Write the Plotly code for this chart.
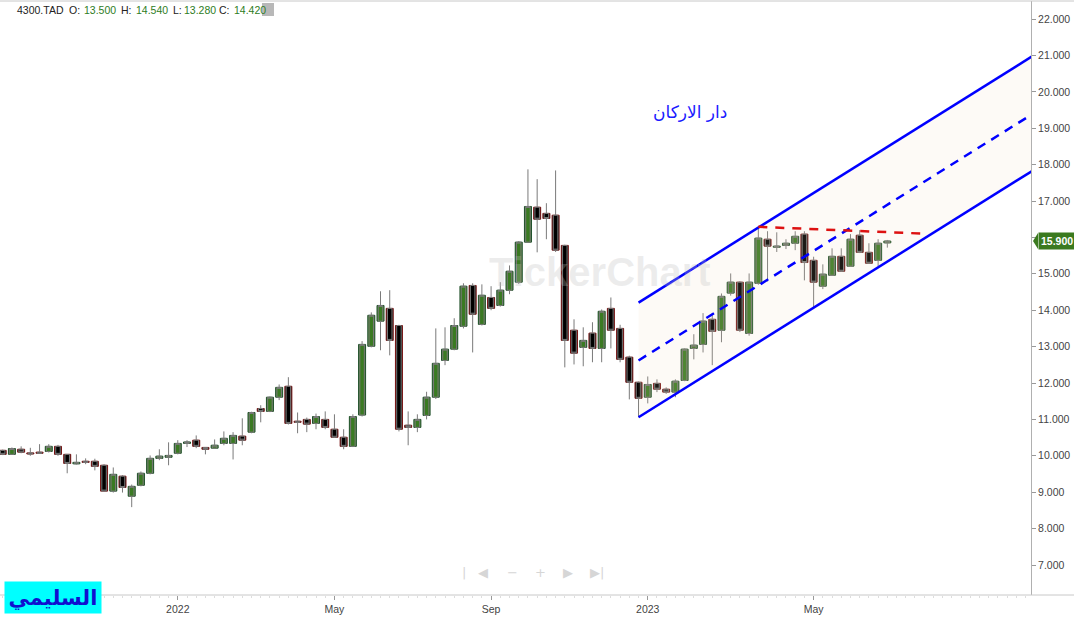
import plotly.graph_objects as go

# ---------------- data ----------------
dates = [
    "2021-08-22", "2021-08-29", "2021-09-05", "2021-09-12", "2021-09-19", "2021-09-26",
    "2021-10-03", "2021-10-10", "2021-10-17", "2021-10-24", "2021-10-31", "2021-11-07",
    "2021-11-14", "2021-11-21", "2021-11-28", "2021-12-05", "2021-12-12", "2021-12-19",
    "2021-12-26", "2022-01-02", "2022-01-09", "2022-01-16", "2022-01-23", "2022-01-30",
    "2022-02-06", "2022-02-13", "2022-02-20", "2022-02-27", "2022-03-06", "2022-03-13",
    "2022-03-20", "2022-03-27", "2022-04-03", "2022-04-10", "2022-04-17", "2022-04-24",
    "2022-05-01", "2022-05-08", "2022-05-15", "2022-05-22", "2022-05-29", "2022-06-05",
    "2022-06-12", "2022-06-19", "2022-06-26", "2022-07-03", "2022-07-17", "2022-07-24",
    "2022-07-31", "2022-08-07", "2022-08-14", "2022-08-21", "2022-08-28", "2022-09-04",
    "2022-09-11", "2022-09-18", "2022-09-25", "2022-10-02", "2022-10-09", "2022-10-16",
    "2022-10-23", "2022-10-30", "2022-11-06", "2022-11-13", "2022-11-20", "2022-11-27",
    "2022-12-04", "2022-12-11", "2022-12-18", "2022-12-25", "2023-01-01", "2023-01-08",
    "2023-01-15", "2023-01-22", "2023-01-29", "2023-02-05", "2023-02-12", "2023-02-19",
    "2023-02-26", "2023-03-05", "2023-03-12", "2023-03-19", "2023-03-26", "2023-04-02",
    "2023-04-09", "2023-04-16", "2023-04-23", "2023-04-30", "2023-05-07", "2023-05-14",
    "2023-05-21", "2023-05-28", "2023-06-04", "2023-06-11", "2023-06-18", "2023-06-25",
    "2023-07-02",
]

opens = [
    10.15, 10.04, 10.18, 10.08, 10.10, 10.12, 10.26, 10.04, 9.78, 9.85,
    9.85, 9.74, 9.03, 9.44, 8.89, 9.19, 9.52, 9.93, 9.96, 10.07,
    10.34, 10.43, 10.23, 10.21, 10.34, 10.34, 10.54, 10.65, 11.30, 11.22,
    11.61, 11.91, 10.95, 11.00, 10.89, 11.00, 10.73, 10.51, 10.26, 11.12,
    13.01, 13.70, 14.05, 13.58, 10.84, 10.78, 11.11, 11.61, 12.62, 12.93,
    13.56, 14.68, 13.61, 14.35, 14.13, 14.55, 14.77, 15.87, 16.83, 16.66,
    16.61, 15.78, 13.45, 12.98, 13.37, 12.95, 14.05, 13.50, 12.71, 12.02,
    11.61, 11.99, 11.83, 11.75, 12.07, 12.95, 13.06, 13.75, 13.45, 14.47,
    14.77, 13.36, 14.74, 15.95, 15.73, 15.78, 15.84, 16.09, 15.37, 14.66,
    14.96, 15.48, 15.21, 16.06, 15.59, 15.37, 15.85,
]
highs = [
    10.17, 10.23, 10.26, 10.22, 10.32, 10.32, 10.30, 10.05, 10.04, 9.93,
    9.92, 9.77, 9.68, 9.47, 9.21, 9.57, 10.01, 10.18, 10.37, 10.43,
    10.43, 10.56, 10.24, 10.45, 10.67, 10.65, 11.03, 11.21, 11.39, 11.63,
    11.96, 12.16, 11.19, 11.05, 11.16, 11.22, 11.14, 10.73, 11.14, 13.15,
    13.94, 14.52, 14.55, 13.60, 11.22, 11.14, 11.76, 13.50, 13.53, 13.78,
    14.74, 14.74, 14.71, 14.66, 14.77, 15.23, 15.90, 17.87, 17.60, 16.94,
    17.84, 15.80, 13.75, 13.53, 13.67, 14.02, 14.35, 13.60, 12.75, 12.04,
    12.18, 12.10, 11.88, 12.10, 12.95, 13.34, 13.92, 13.92, 14.46, 15.01,
    14.80, 15.01, 16.28, 16.17, 16.14, 15.95, 16.17, 16.17, 15.47, 15.26,
    15.70, 15.70, 16.09, 16.20, 15.84, 15.95, 15.93,
]
lows = [
    10.02, 10.03, 10.07, 10.00, 10.06, 10.09, 10.00, 9.52, 9.76, 9.77,
    9.60, 9.02, 8.99, 8.99, 8.59, 9.16, 9.49, 9.88, 9.74, 10.04,
    10.24, 10.21, 10.04, 10.19, 10.29, 9.90, 10.29, 10.62, 10.92, 11.20,
    11.53, 10.86, 10.62, 10.65, 10.73, 10.73, 10.49, 10.18, 10.24, 11.08,
    12.98, 12.90, 12.76, 10.67, 10.29, 10.65, 11.00, 11.56, 12.49, 12.90,
    13.50, 12.84, 13.58, 14.00, 14.10, 14.44, 14.72, 15.85, 15.59, 15.95,
    15.60, 12.43, 12.51, 12.46, 12.57, 12.57, 12.95, 12.57, 11.55, 11.06,
    11.44, 11.75, 11.70, 11.61, 12.05, 12.65, 12.84, 12.49, 13.12, 14.40,
    13.40, 13.30, 14.70, 14.79, 15.60, 15.68, 15.65, 14.82, 14.08, 14.58,
    14.94, 15.05, 15.19, 15.57, 15.27, 15.20, 15.72,
]
closes = [
    10.04, 10.20, 10.10, 10.05, 10.07, 10.26, 10.04, 9.79, 9.82, 9.82,
    9.71, 9.03, 9.49, 9.13, 9.16, 9.52, 9.93, 9.99, 10.01, 10.34,
    10.38, 10.26, 10.18, 10.29, 10.48, 10.56, 10.43, 11.19, 11.22, 11.61,
    11.88, 10.89, 10.92, 10.87, 11.08, 10.78, 10.51, 10.26, 11.08, 13.06,
    13.86, 14.13, 13.17, 10.73, 10.78, 11.00, 11.61, 12.54, 12.93, 13.58,
    14.66, 13.89, 14.41, 14.05, 14.55, 15.07, 15.87, 16.85, 16.50, 16.52,
    15.65, 13.17, 12.82, 13.17, 12.95, 13.97, 13.45, 12.65, 12.02, 11.58,
    11.96, 11.83, 11.75, 12.05, 12.93, 13.04, 13.70, 13.42, 14.38, 14.77,
    13.45, 14.77, 15.98, 15.76, 15.76, 15.84, 16.03, 15.31, 14.77, 14.99,
    15.48, 15.07, 15.95, 15.59, 15.29, 15.84, 15.90,
]

# tick labels for the first week of these months (from 2022 on; earlier ones sit under the logo)
tick_months = {1: None, 5: "May", 9: "Sep"}
tick_start = "2022-01-01"

# price channel (x in candle-index units) and resistance line
channel_x = [69, 112]
channel_upper = [14.21, 21.02]
channel_mid = [12.62, 19.43]
channel_lower = [11.06, 17.87]
resist_x = [82, 100.3]
resist_y = [16.29, 16.10]

y_ticks = [7, 8, 9, 10, 11, 12, 13, 14, 15, 16, 17, 18, 19, 20, 21, 22]
last_price = 15.90
hidden_y_tick = 16  # covered by the last-price tag

header_labels = ["4300.TAD", "O:", "13.500", "H:", "14.540", "L:", "13.280", "C:", "14.420"]
header_values = {"13.500", "14.540", "13.280", "14.420"}

# ---------------- build ----------------
xs = list(range(len(dates)))
tick_idx, tick_text = [], []
prev_m = None
for i, d in enumerate(dates):
    yr, m = int(d[:4]), int(d[5:7])
    if m != prev_m and m in tick_months and d >= tick_start:
        tick_idx.append(i)
        tick_text.append(str(yr) if m == 1 else tick_months[m])
    prev_m = m

y_text = ["" if v == hidden_y_tick else f"{v:.3f}" for v in y_ticks]

GREEN = "#3a7a22"
GREEN_EDGE = "#1f4f2a"
RED_EDGE = "#7a1414"
WICK = "#7a7a7a"

fig = go.Figure()

# channel fill
fig.add_trace(go.Scatter(
    x=[channel_x[0], channel_x[1], channel_x[1], channel_x[0]],
    y=[channel_upper[0], channel_upper[1], channel_lower[1], channel_lower[0]],
    fill="toself", fillcolor="rgba(240,215,180,0.12)", line=dict(width=0),
    mode="lines", hoverinfo="skip", showlegend=False))

# wicks (gray)
fig.add_trace(go.Candlestick(
    x=xs, open=opens, high=highs, low=lows, close=closes,
    increasing=dict(fillcolor=GREEN, line=dict(color=WICK, width=1)),
    decreasing=dict(fillcolor="#000000", line=dict(color=WICK, width=1)),
    whiskerwidth=0, hoverinfo="skip", showlegend=False))

# bodies as bars from open to close
up = [c >= o for o, c in zip(opens, closes)]
fig.add_trace(go.Bar(
    x=xs, base=opens, y=[c - o for o, c in zip(opens, closes)], width=0.76,
    marker=dict(color=[GREEN if u else "#000000" for u in up],
                line=dict(color=[GREEN_EDGE if u else RED_EDGE for u in up], width=1)),
    hoverinfo="skip", showlegend=False))

# channel lines
for ys, dash in ((channel_upper, "solid"), (channel_lower, "solid"), (channel_mid, "9px,7px")):
    fig.add_trace(go.Scatter(x=channel_x, y=ys, mode="lines",
                             line=dict(color="#0000ff", width=2.5, dash=dash),
                             hoverinfo="skip", showlegend=False))
fig.add_trace(go.Scatter(x=resist_x, y=resist_y, mode="lines",
                         line=dict(color="#dd1111", width=2.5, dash="9px,8px"),
                         hoverinfo="skip", showlegend=False))

W, H = 1074, 617
ML, MR, MT, MB = 0, 43, 1, 22
PW = W - ML - MR
PH = H - MT - MB


def px_x(p):
    return (p - ML) / PW


def px_y(p):
    return 1 - (p - MT) / PH


annotations = []
# header tokens
header_x = [15, 67, 82, 119, 134, 171, 182, 217, 232]
for hx, lab in zip(header_x, header_labels):
    annotations.append(dict(
        xref="paper", yref="paper", x=px_x(hx), y=px_y(10), xanchor="left", yanchor="middle",
        text=lab, showarrow=False,
        font=dict(family="Liberation Sans, Arial", size=10.5,
                  color="#2e7d1e" if lab in header_values else "#222")))
annotations += [
    # title
    dict(xref="paper", yref="paper", x=px_x(690), y=px_y(100), xanchor="center",
         text="دار الاركان", showarrow=False,
         font=dict(family="DejaVu Sans", size=17, color="#1a1aff")),
    # watermark
    dict(xref="paper", yref="paper", x=px_x(600), y=px_y(272),
         text="<b>TickerChart</b>", showarrow=False,
         font=dict(family="Liberation Sans, Arial", size=40, color="rgba(190,190,190,0.28)")),
    # logo
    dict(xref="paper", yref="paper", x=px_x(4), y=px_y(581),
         xanchor="left", yanchor="top", text="<b>السليمي</b>", showarrow=False,
         bgcolor="#00ffff", width=92, height=27, borderpad=2,
         font=dict(family="DejaVu Sans", size=21, color="#1010d0")),
    # last price tag
    dict(xref="paper", yref="y", x=1, y=last_price, xanchor="left", xshift=7,
         text="<b>15.900</b>", showarrow=False, bgcolor="#3b7a1f", borderpad=2,
         font=dict(family="Liberation Sans, Arial", size=10.5, color="white")),
]

# navigation glyphs
for px, sym in ((464, "|"), (483, "◀"), (512, "−"), (540, "+"), (568, "▶"), (597, "▶|")):
    annotations.append(dict(xref="paper", yref="paper", x=px_x(px), y=px_y(582),
                            text=sym, showarrow=False,
                            font=dict(family="DejaVu Sans", size=13, color="#d6d6d6")))

shapes = [
    dict(type="line", xref="paper", yref="paper", x0=0, x1=W / PW, y0=1, y1=1,
         line=dict(color="#c8c8c8", width=1)),
    dict(type="line", xref="paper", yref="paper", x0=0, x1=W / PW, y0=0, y1=0,
         line=dict(color="#c8c8c8", width=1)),
    # "..." button
    dict(type="rect", xref="paper", yref="paper", x0=px_x(262), x1=px_x(274),
         y0=px_y(16), y1=px_y(3), fillcolor="#b8b8b8", line=dict(width=0)),
    # price-tag arrow
    dict(type="path", xref="paper", yref="y",
         path=f"M {1 + 2 / PW} {last_price} L {1 + 7 / PW} {last_price + 0.22} L {1 + 7 / PW} {last_price - 0.22} Z",
         fillcolor="#3b7a1f", line=dict(width=0)),
]
annotations.append(dict(xref="paper", yref="paper", x=px_x(268), y=px_y(9), text="···",
                        showarrow=False, font=dict(size=9, color="white")))

fig.update_layout(
    width=W, height=H,
    margin=dict(l=ML, r=MR, t=MT, b=MB),
    paper_bgcolor="white", plot_bgcolor="white",
    showlegend=False, barmode="overlay",
    annotations=annotations, shapes=shapes,
    xaxis=dict(range=[-0.293, 111.59], showgrid=False, zeroline=False,
               rangeslider=dict(visible=False),
               tickmode="array", tickvals=tick_idx, ticktext=tick_text,
               ticks="outside", ticklen=4, tickcolor="#999",
               tickfont=dict(family="Liberation Sans, Arial", size=10.5, color="#444"),
               showline=False,
               minor=dict(ticks="outside", ticklen=2, tickmode="linear", tick0=0, dtick=1,
                          tickcolor="#dddddd")),
    yaxis=dict(side="right", range=[6.176, 22.495], showgrid=False, zeroline=False,
               tickmode="array", tickvals=y_ticks, ticktext=y_text,
               ticks="outside", ticklen=4, tickcolor="#999",
               tickfont=dict(family="Liberation Sans, Arial", size=10.5, color="#444"),
               showline=True, linecolor="#b0b0b0", linewidth=1),
)

fig.write_html("out.html", config={"displayModeBar": False},
               post_script="document.body.style.margin='0';")
